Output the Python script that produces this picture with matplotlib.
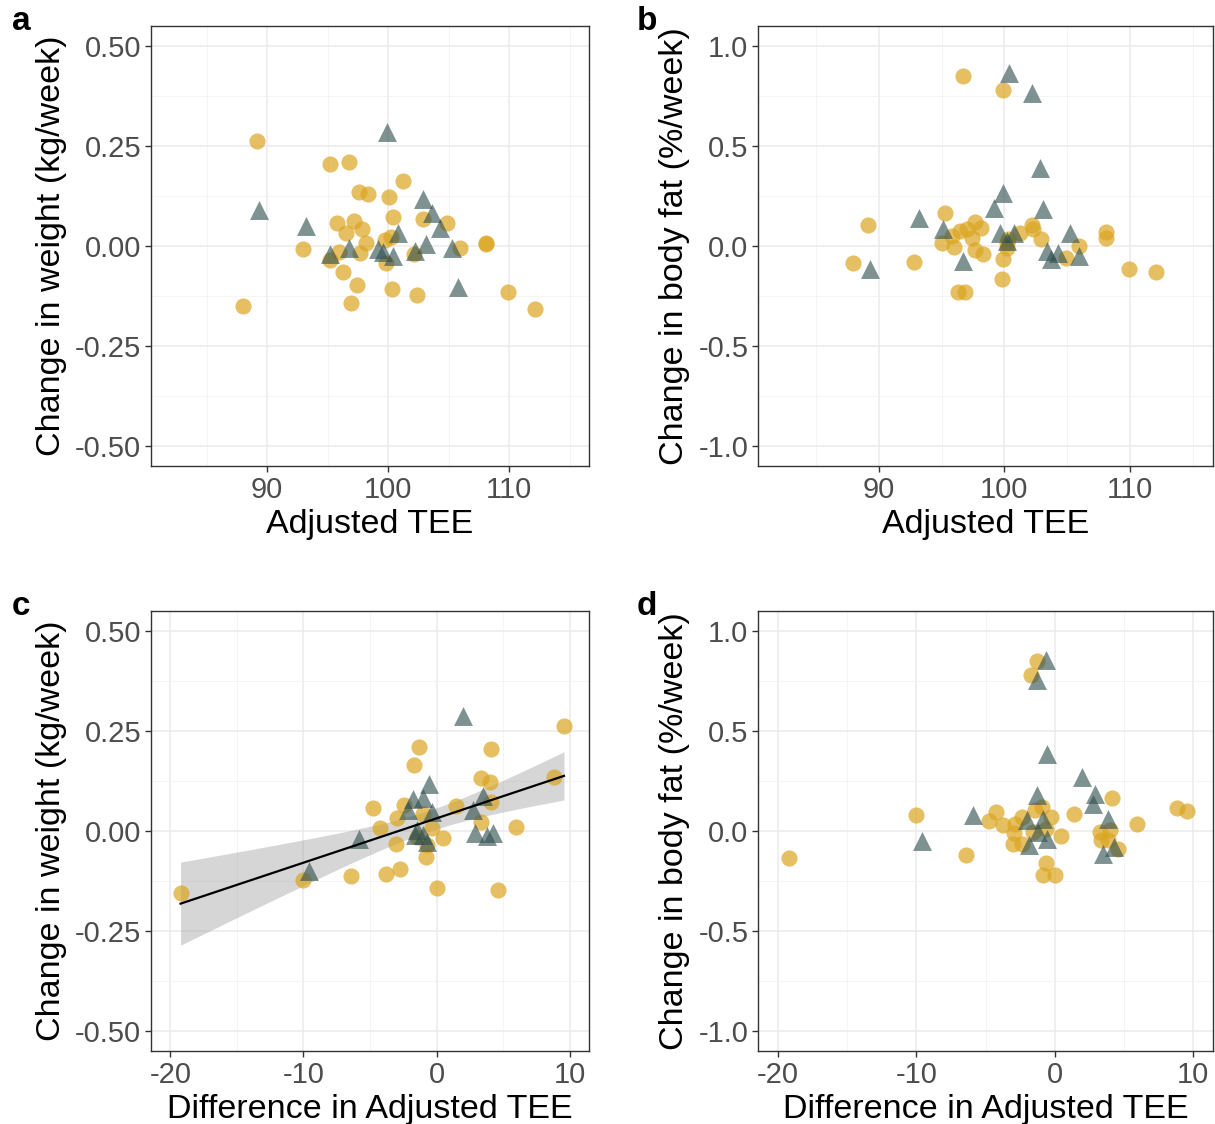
import numpy as np
import matplotlib
matplotlib.use('Agg')
import matplotlib.pyplot as plt
from matplotlib.ticker import FormatStrFormatter

plt.rcParams['font.family'] = ['Liberation Sans', 'DejaVu Sans']
plt.rcParams['axes.unicode_minus'] = False

gold = '#DAA520'
slate = '#2F4F4F'

# panel a: adjusted TEE vs change in weight
a_circ_x = [89.15, 95.2, 96.75, 101.2, 97.6, 98.3, 100.05, 100.4, 102.9, 104.9, 95.76, 97.2,
            97.8, 96.5, 98.2, 100.2, 99.75, 92.95, 95.97, 97.7, 95.2, 99.8, 102.1, 105.95,
            108.1, 108.1, 96.3, 97.4, 100.3, 102.4, 96.9, 88.0, 109.9, 112.1]
a_circ_y = [0.262, 0.205, 0.209, 0.163, 0.136, 0.129, 0.122, 0.0725, 0.067, 0.058, 0.057, 0.063,
            0.042, 0.032, 0.007, 0.023, 0.015, -0.0075, -0.014, -0.018, -0.035, -0.043, -0.02, -0.005,
            0.007, 0.005, -0.065, -0.0975, -0.108, -0.123, -0.143, -0.15, -0.115, -0.158]
a_tri_x = [99.9, 89.3, 93.25, 102.9, 103.6, 104.3, 100.8, 95.2, 96.8, 99.15, 99.6, 100.4,
           102.2, 103.1, 105.3, 105.8]
a_tri_y = [0.286, 0.09, 0.05, 0.117, 0.082, 0.044, 0.032, -0.02, -0.006, -0.0075, -0.016, -0.025,
           -0.012, 0.005, -0.006, -0.102]

# panel b: adjusted TEE vs change in body fat
b_circ_x = [96.71, 99.9, 95.26, 89.13, 97.7, 97.06, 96.5, 98.15, 95.8, 95.07, 96.0, 97.45,
            97.7, 98.3, 99.9, 99.8, 96.35, 96.9, 92.84, 87.96, 100.24, 100.2, 100.3, 101.25,
            102.2, 102.3, 102.9, 105.9, 104.9, 108.07, 108.07, 109.9, 112.1]
b_circ_y = [0.852, 0.78, 0.167, 0.104, 0.12, 0.083, 0.075, 0.089, 0.05, 0.017, -0.003, 0.042,
            -0.02, -0.04, -0.067, -0.163, -0.228, -0.228, -0.078, -0.087, 0.017, -0.008, 0.033, 0.067,
            0.105, 0.083, 0.033, 0.0, -0.062, 0.072, 0.038, -0.115, -0.13]
b_tri_x = [100.35, 102.2, 102.84, 99.87, 99.16, 103.05, 93.2, 95.1, 99.66, 100.8, 100.24, 105.2,
           103.4, 104.3, 103.7, 105.9, 96.7, 89.3]
b_tri_y = [0.864, 0.767, 0.392, 0.267, 0.192, 0.183, 0.142, 0.083, 0.067, 0.067, 0.025, 0.067,
           -0.025, -0.033, -0.067, -0.05, -0.075, -0.117]

# panel c: difference in adjusted TEE vs change in weight
c_circ_x = [9.57, -19.23, -1.31, 4.08, -1.71, 3.33, 4.0, 8.84, -4.77, -2.43, 1.43, 4.06,
            -3.0, -1.05, -4.26, -0.38, 3.33, 5.96, 0.45, -3.06, -1.5, -0.75, -0.8, -2.71,
            -3.79, -6.44, -10.05, 0.05, 4.61]
c_circ_y = [0.2625, -0.156, 0.209, 0.205, 0.166, 0.132, 0.123, 0.136, 0.0575, 0.065, 0.063, 0.072,
            0.032, 0.0425, 0.007, 0.008, 0.023, 0.009, -0.017, -0.032, -0.014, -0.035, -0.066, -0.096,
            -0.107, -0.1125, -0.1225, -0.1425, -0.1475]
c_tri_x = [1.95, -0.6, -1.76, -1.05, -0.38, -2.14, 3.46, 2.75, -5.84, -9.58, -1.5, -1.05,
           -0.75, 2.88, 3.76, 4.26, -1.63]
c_tri_y = [0.2875, 0.1175, 0.079, 0.082, 0.048, 0.0525, 0.0875, 0.0525, -0.021, -0.10, 0.0025, -0.01,
           -0.027, -0.006, -0.012, -0.006, -0.01]

# panel d: difference in adjusted TEE vs change in body fat
d_circ_x = [-1.3, -1.71, -10.06, -19.23, -6.42, -4.27, -4.73, -3.76, -2.87, -2.39, -2.92, -3.0,
            -2.39, -0.94, -1.43, -0.29, 1.42, -1.59, -0.63, 0.46, 4.12, 5.98, 8.83, 9.55,
            3.28, 4.0, 3.33, 3.88, 4.6, -0.63, -0.82, 0.02]
d_circ_y = [0.85, 0.782, 0.082, -0.135, -0.118, 0.0935, 0.0485, 0.0285, 0.037, 0.07, -0.01, -0.0665,
            -0.0665, 0.12, 0.1035, 0.07, 0.087, -0.005, 0.012, -0.025, 0.165, 0.0335, 0.117, 0.0985,
            -0.005, 0.0035, -0.043, -0.0465, -0.0915, -0.16, -0.22, -0.22]
d_tri_x = [-0.65, -1.28, -0.58, 1.95, 2.92, -1.3, 2.8, -5.93, 3.84, -2.03, -0.87, -1.19,
           -0.58, -1.84, -9.6, 4.31, 3.52]
d_tri_y = [0.857, 0.757, 0.387, 0.27, 0.187, 0.1785, 0.137, 0.0785, 0.062, 0.0535, 0.062, -0.005,
           -0.038, -0.0715, -0.05, -0.08, -0.113]

tee_ticks = [90, 100, 110]
tee_minor = [85, 95, 105, 115]
diff_ticks = [-20, -10, 0, 10]
diff_minor = [-15, -5, 5]
wt_ticks = [-0.5, -0.25, 0, 0.25, 0.5]
wt_minor = [-0.375, -0.125, 0.125, 0.375]
fat_ticks = [-1.0, -0.5, 0, 0.5, 1.0]
fat_minor = [-0.75, -0.25, 0.25, 0.75]

W, H = 1215, 1124
fig = plt.figure(figsize=(W / 100, H / 100), dpi=100)


def box(l, t, r, b):
    return [l / W, 1 - b / H, (r - l) / W, (b - t) / H]


def style(ax, xlim, ylim, xt, xm, yt, ym, yfmt, xlabel, ylabel):
    ax.set_xlim(*xlim)
    ax.set_ylim(*ylim)
    ax.set_xticks(xt)
    ax.set_xticks(xm, minor=True)
    ax.set_yticks(yt)
    ax.set_yticks(ym, minor=True)
    ax.yaxis.set_major_formatter(FormatStrFormatter(yfmt))
    ax.grid(True, which='major', color='#EBEBEB', lw=1.1)
    ax.grid(True, which='minor', color='#F2F2F2', lw=0.6)
    ax.set_axisbelow(True)
    for s in ax.spines.values():
        s.set_color('#333333')
        s.set_linewidth(1.0)
    ax.tick_params(which='major', length=4, width=1, color='#333333',
                   labelsize=21, labelcolor='#4D4D4D', pad=3)
    ax.tick_params(which='minor', length=0)
    ax.set_xlabel(xlabel, fontsize=24.5, labelpad=4)
    ax.set_ylabel(ylabel, fontsize=24.5, labelpad=6)


def points(ax, cx, cy, tx, ty):
    ax.scatter(cx, cy, s=135, marker='o', color=gold, alpha=0.7, linewidths=0, zorder=3)
    ax.scatter(tx, ty, s=185, marker='^', color=slate, alpha=0.62, linewidths=0, zorder=3)


tee_lim = (80.4, 116.6)
diff_lim = (-21.45, 11.45)

ax_a = fig.add_axes(box(151, 26, 589, 466))
points(ax_a, a_circ_x, a_circ_y, a_tri_x, a_tri_y)
style(ax_a, tee_lim, (-0.55, 0.55), tee_ticks, tee_minor, wt_ticks, wt_minor, '%.2f',
      'Adjusted TEE', 'Change in weight (kg/week)')

ax_b = fig.add_axes(box(758, 26, 1213, 466))
points(ax_b, b_circ_x, b_circ_y, b_tri_x, b_tri_y)
style(ax_b, tee_lim, (-1.1, 1.1), tee_ticks, tee_minor, fat_ticks, fat_minor, '%.1f',
      'Adjusted TEE', 'Change in body fat (%/week)')

ax_c = fig.add_axes(box(151, 611, 589, 1051))
# linear fit with 95% band, over all points of panel c
xs = np.array(c_circ_x + c_tri_x)
ys = np.array(c_circ_y + c_tri_y)
n = len(xs)
slope, icpt = np.polyfit(xs, ys, 1)
resid = ys - (slope * xs + icpt)
sig = np.sqrt(np.sum(resid ** 2) / (n - 2))
grid_x = np.linspace(xs.min(), xs.max(), 80)
se = sig * np.sqrt(1 / n + (grid_x - xs.mean()) ** 2 / np.sum((xs - xs.mean()) ** 2))
fit = slope * grid_x + icpt
tq = 2.01
ax_c.fill_between(grid_x, fit - tq * se, fit + tq * se, color='#999999', alpha=0.4, lw=0, zorder=2)
points(ax_c, c_circ_x, c_circ_y, c_tri_x, c_tri_y)
ax_c.plot(grid_x, fit, color='black', lw=1.6, zorder=4)
style(ax_c, diff_lim, (-0.55, 0.55), diff_ticks, diff_minor, wt_ticks, wt_minor, '%.2f',
      'Difference in Adjusted TEE', 'Change in weight (kg/week)')

ax_d = fig.add_axes(box(758, 611, 1213, 1051))
points(ax_d, d_circ_x, d_circ_y, d_tri_x, d_tri_y)
style(ax_d, diff_lim, (-1.1, 1.1), diff_ticks, diff_minor, fat_ticks, fat_minor, '%.1f',
      'Difference in Adjusted TEE', 'Change in body fat (%/week)')

for lab, (px, py) in zip('abcd', [(12, 30), (637, 30), (12, 615), (637, 615)]):
    fig.text(px / W, 1 - py / H, lab, fontsize=24, fontweight='bold', ha='left', va='baseline')

fig.savefig('out.png', dpi=100)
